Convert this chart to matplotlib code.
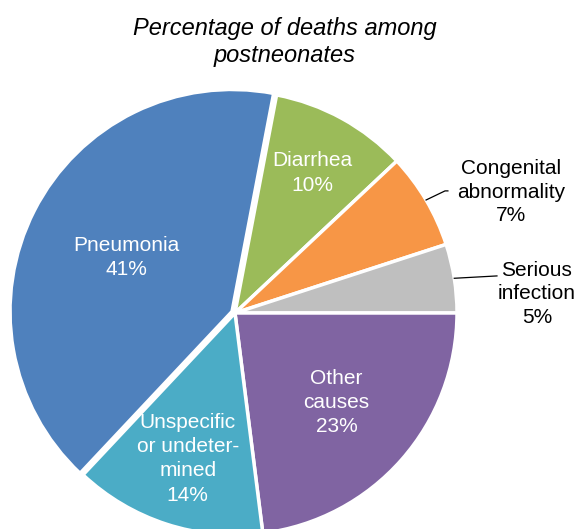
import numpy as np
import matplotlib.pyplot as plt

plt.rcParams["font.family"] = ["Liberation Sans", "DejaVu Sans"]

causes = ["Diarrhea", "Congenital\nabnormality", "Serious\ninfection",
          "Other\ncauses", "Unspecific\nor undeter-\nmined", "Pneumonia"]
shares = [10, 7, 5, 23, 14, 41]
colors = ["#9BBB59", "#F79646", "#BFBFBF", "#8064A2", "#4BACC6", "#4F81BD"]

# layout: px coords of figure, pie centre and radius
W, H = 577, 529
cx, cy, R = 235, 313, 222

fig = plt.figure(figsize=(W / 100, H / 100), dpi=100)
ax = fig.add_axes([0, 0, 1, 1])

start = 360 * sum(shares[:3]) / 100
explode = [0, 0, 0, 0, 0, 0.015]
wedges, _ = ax.pie(shares, colors=colors, startangle=start, counterclock=False,
                   explode=explode, radius=1,
                   wedgeprops=dict(edgecolor="white", linewidth=2.5))
ax.set_xlim(-cx / R, (W - cx) / R)
ax.set_ylim(-(H - cy) / R, cy / R)
ax.set_aspect("equal")
ax.axis("off")

inside = {0: 0.72, 3: 0.61, 4: 0.69, 5: 0.55}
for i, w in enumerate(wedges):
    mid = np.deg2rad((w.theta1 + w.theta2) / 2)
    label = f"{causes[i]}\n{shares[i]}%"
    if i in inside:
        f = inside[i]
        ax.text(f * np.cos(mid), f * np.sin(mid), label, color="white",
                fontsize=15, ha="center", va="center", linespacing=1.35)

# outside labels with leader lines
outside = {
    1: dict(elbow=(0.946, 0.55), end=(0.959, 0.55), text=(1.243, 0.545)),
    2: dict(elbow=(1.18, 0.167), end=(1.18, 0.167), text=(1.36, 0.086)),
}
for i, o in outside.items():
    w = wedges[i]
    mid = np.deg2rad((w.theta1 + w.theta2) / 2)
    p0 = (np.cos(mid), np.sin(mid))
    ax.plot([p0[0], o["elbow"][0], o["end"][0]],
            [p0[1], o["elbow"][1], o["end"][1]], color="black", lw=0.9)
    ax.text(*o["text"], f"{causes[i]}\n{shares[i]}%", color="black",
            fontsize=15, ha="center", va="center", linespacing=1.3, clip_on=False)

fig.text(285 / W, 1 - 42 / H, "Percentage of deaths among\npostneonates",
         ha="center", va="center", fontsize=17, style="italic", linespacing=1.25)

fig.savefig("out.png", dpi=100)
